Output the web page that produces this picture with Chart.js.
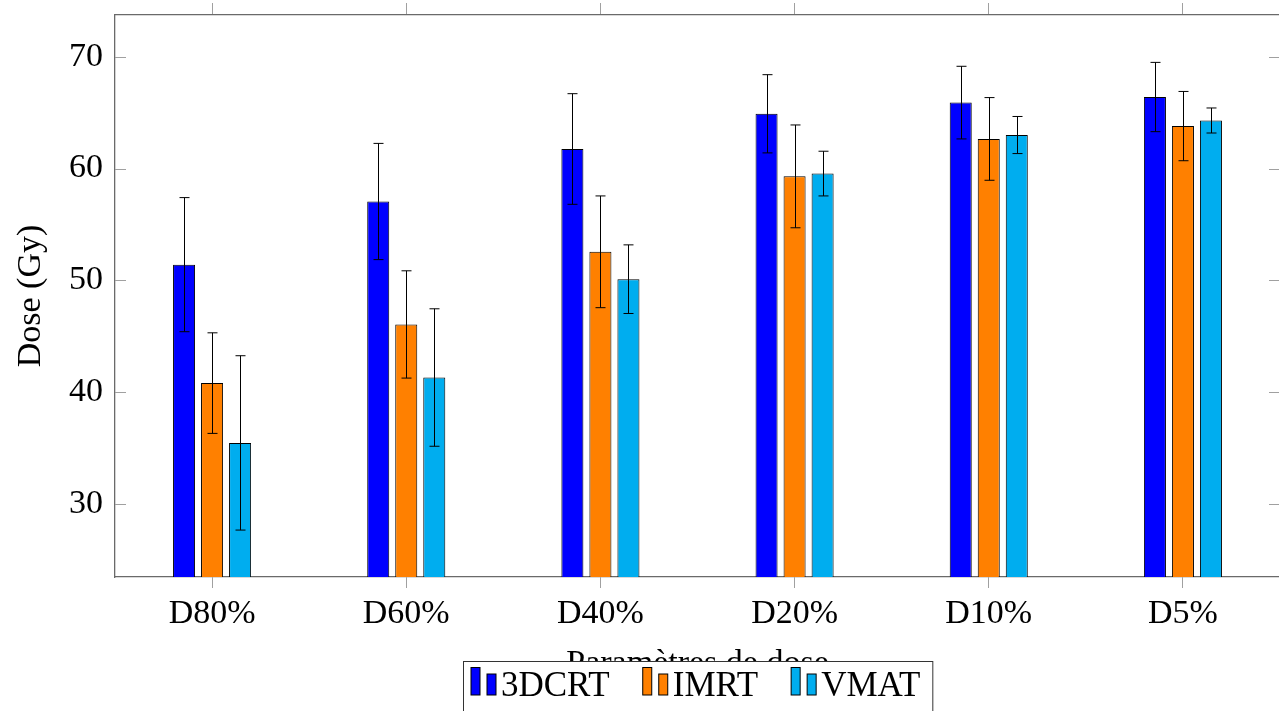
<!DOCTYPE html>
<html lang="fr">
<head>
    <meta charset="UTF-8">
    <title>Dose par technique</title>
    <script src="https://cdn.jsdelivr.net/npm/chart.js"></script>
    <style>
        body { margin: 0; overflow: hidden; background: #fff; }
        #wrap { width: 1290px; height: 711px; position: relative; }
    </style>
</head>
<body>
<div id="wrap"><canvas id="myChart"></canvas></div>

<script>
    const labels = ['D80%', 'D60%', 'D40%', 'D20%', 'D10%', 'D5%'];
    const crt = [51.4, 57.05, 61.75, 64.9, 65.9, 66.4];
    const crtErr = [6.0, 5.2, 4.95, 3.5, 3.25, 3.1];
    const imrt = [40.8, 46.05, 52.55, 59.3, 62.65, 63.8];
    const imrtErr = [4.5, 4.8, 5.0, 4.6, 3.7, 3.1];
    const vmat = [35.45, 41.3, 50.1, 59.55, 63.0, 64.3];
    const vmatErr = [7.8, 6.15, 3.07, 2.0, 1.66, 1.12];
    const yTicks = [30, 40, 50, 60, 70];

    Chart.defaults.font.family = '"Liberation Serif", serif';
    Chart.defaults.font.size = 34;
    Chart.defaults.color = '#000';

    const axisColor = '#6a6a6a';
    const tickColor = '#a0a0a0';

    // error bars, drawn from the value scale
    const errorBars = {
        id: 'errorBars',
        afterDatasetsDraw(chart) {
            const ctx = chart.ctx;
            const y = chart.scales.y;
            ctx.save();
            ctx.strokeStyle = '#000';
            ctx.lineWidth = 1;
            chart.data.datasets.forEach((ds, i) => {
                chart.getDatasetMeta(i).data.forEach((bar, j) => {
                    const v = ds.data[j], e = ds.errors[j];
                    const x = Math.round(bar.x) + 0.5;
                    const top = y.getPixelForValue(v + e);
                    const bot = y.getPixelForValue(v - e);
                    ctx.beginPath();
                    ctx.moveTo(x, top); ctx.lineTo(x, bot);
                    ctx.moveTo(x - 5, top); ctx.lineTo(x + 5, top);
                    ctx.moveTo(x - 5, bot); ctx.lineTo(x + 5, bot);
                    ctx.stroke();
                });
            });
            ctx.restore();
        }
    };

    // right border, inner y ticks and the boxed legend
    const frame = {
        id: 'frame',
        afterDraw(chart) {
            const ctx = chart.ctx;
            const a = chart.chartArea;
            const y = chart.scales.y;
            ctx.save();
            ctx.lineWidth = 1;
            ctx.strokeStyle = tickColor;
            yTicks.forEach(v => {
                const py = Math.round(y.getPixelForValue(v)) + 0.5;
                ctx.beginPath();
                ctx.moveTo(a.left, py); ctx.lineTo(a.left + 11, py);
                ctx.moveTo(a.right - 11, py); ctx.lineTo(a.right, py);
                ctx.stroke();
            });
            ctx.strokeStyle = axisColor;
            ctx.lineWidth = 1.3;
            ctx.beginPath();
            ctx.moveTo(a.right, a.top); ctx.lineTo(a.right, a.bottom);
            ctx.stroke();

            ctx.font = '35px "Liberation Serif", serif';
            const items = chart.data.datasets.map(ds => ({
                label: ds.label, color: ds.backgroundColor, w: ctx.measureText(ds.label).width
            }));
            const gap = 33;
            let boxW = 8 + 12;
            items.forEach((it, k) => { boxW += 30 + it.w + (k < items.length - 1 ? gap : 0); });
            const boxL = Math.round((a.left + a.right) / 2 - boxW / 2) + 0.5;
            const boxT = a.bottom + 84.5;
            ctx.fillStyle = '#fff';
            ctx.fillRect(boxL, boxT, boxW, 80);
            ctx.strokeStyle = '#333';
            ctx.lineWidth = 1;
            ctx.strokeRect(boxL, boxT, boxW, 80);

            let x = boxL + 7.5;
            const base = boxT + 33.5;
            items.forEach(it => {
                ctx.fillStyle = it.color;
                ctx.strokeStyle = '#000';
                ctx.fillRect(x, base - 27.5, 9, 27.5);
                ctx.strokeRect(x, base - 27.5, 9, 27.5);
                ctx.fillRect(x + 16, base - 21, 9, 21);
                ctx.strokeRect(x + 16, base - 21, 9, 21);
                ctx.fillStyle = '#000';
                ctx.textBaseline = 'alphabetic';
                ctx.fillText(it.label, x + 30, base + 1);
                x += 30 + it.w + gap;
            });
            ctx.restore();
        }
    };

    const ctx = document.getElementById('myChart').getContext('2d');
    const myChart = new Chart(ctx, {
        type: 'bar',
        data: {
            labels: labels,
            datasets: [
                { label: '3DCRT', data: crt, errors: crtErr, backgroundColor: '#0000ff' },
                { label: 'IMRT', data: imrt, errors: imrtErr, backgroundColor: '#ff8000' },
                { label: 'VMAT', data: vmat, errors: vmatErr, backgroundColor: '#00adef' }
            ].map(ds => Object.assign(ds, {
                borderColor: '#000',
                borderWidth: 1,
                borderSkipped: 'start',
                barPercentage: 0.786,
                categoryPercentage: 0.433
            }))
        },
        options: {
            responsive: true,
            maintainAspectRatio: false,
            animation: false,
            layout: { padding: { left: 0, right: 10, top: 0, bottom: 0 } },
            plugins: {
                legend: { display: false },
                tooltip: { enabled: false }
            },
            scales: {
                x: {
                    offset: true,
                    grid: { drawOnChartArea: false, tickLength: 11, color: tickColor, offset: false },
                    border: { color: axisColor, width: 1.3 },
                    ticks: { padding: 6, maxRotation: 0 },
                    title: { display: true, text: 'Paramètres de dose', padding: { top: 0, bottom: 27 } },
                    afterFit(scale) { scale.height = 134; scale.paddingLeft = 0; scale.paddingRight = 0; }
                },
                x2: {
                    type: 'category',
                    position: 'top',
                    labels: labels,
                    offset: true,
                    grid: { drawOnChartArea: false, tickLength: 12, color: tickColor, offset: false },
                    border: { color: axisColor, width: 1.3 },
                    ticks: { display: false },
                    afterFit(scale) { scale.height = 15; scale.paddingLeft = 0; scale.paddingRight = 0; }
                },
                y: {
                    min: 23.45,
                    max: 73.74,
                    grid: { drawOnChartArea: false, drawTicks: false },
                    border: { color: axisColor, width: 1.3 },
                    ticks: { padding: 12 },
                    afterBuildTicks(scale) { scale.ticks = yTicks.map(v => ({ value: v })); },
                    title: { display: true, text: 'Dose (Gy)', padding: { top: 11, bottom: 0 } },
                    afterFit(scale) { scale.width = 115; scale.paddingTop = 0; scale.paddingBottom = 0; }
                }
            }
        },
        plugins: [errorBars, frame]
    });
</script>
</body>
</html>
